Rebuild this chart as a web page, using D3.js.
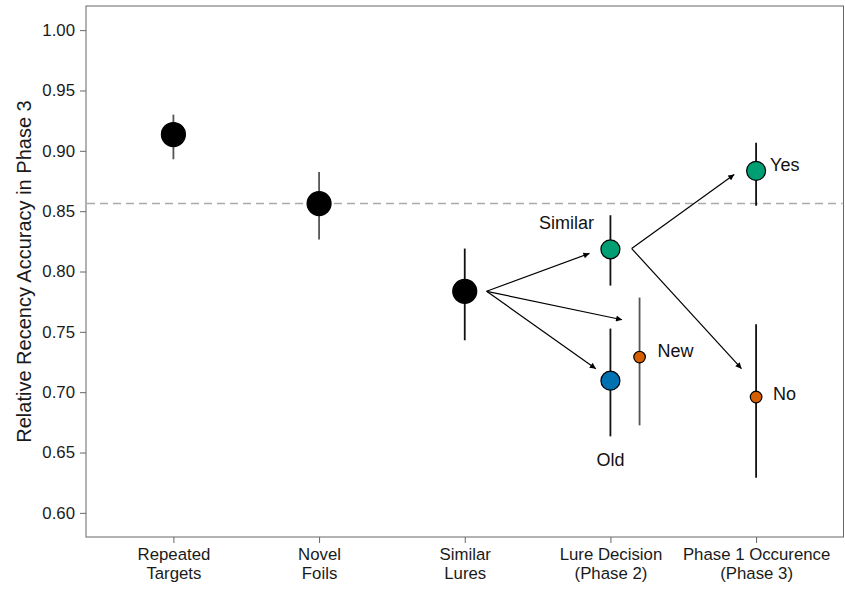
<!DOCTYPE html>
<html>
<head>
<meta charset="utf-8">
<script src="https://cdn.jsdelivr.net/npm/d3@7"></script>
<style>
  body { margin: 0; background: #fff; }
  svg { display: block; font-family: "Liberation Sans", Arial, sans-serif; }
</style>
</head>
<body>
<svg id="chart" width="845" height="589"></svg>
<script>
// Categories along the x axis (each label split over two lines)
const categories = [
  ["Repeated", "Targets"],
  ["Novel", "Foils"],
  ["Similar", "Lures"],
  ["Lure Decision", "(Phase 2)"],
  ["Phase 1 Occurence", "(Phase 3)"]
];
const yTicks = [0.60, 0.65, 0.70, 0.75, 0.80, 0.85, 0.90, 0.95, 1.00];

// Point estimates: category position, mean, lower / upper interval, group
const pointX     = [0, 1, 2, 3, 3, 3.2, 4, 4];
const pointMean  = [0.9135, 0.8563, 0.7836, 0.8184, 0.7095, 0.7291, 0.8834, 0.6960];
const pointLow   = [0.8930, 0.8265, 0.7430, 0.7883, 0.6634, 0.6725, 0.8544, 0.6291];
const pointHigh  = [0.9300, 0.8825, 0.8190, 0.8466, 0.7527, 0.7784, 0.9066, 0.7562];
const pointGroup = ["main", "main", "main", "similar", "old", "new", "similar", "new"];
const pointLabel = ["", "", "", "Similar", "Old", "New", "Yes", "No"];

// Reference line (Novel Foils mean)
const refLine = 0.8563;

// Arrows: from (x0, y0) to (x1, y1)
const arrowX0 = [2.15, 2.15, 2.15, 3.146, 3.146];
const arrowY0 = [0.7836, 0.7836, 0.7836, 0.8190, 0.8190];
const arrowX1 = [2.856, 3.08, 2.90, 3.85, 3.90];
const arrowY1 = [0.8150, 0.7600, 0.7195, 0.8804, 0.7195];

const groupFill   = { main: "#000000", similar: "#009E73", old: "#0072B2", new: "#D55E00" };
const groupRadius = { main: 12, similar: 9.5, old: 9.5, new: 5.8 };

const svg = d3.select("#chart");
const pLeft = 86, pRight = 843.5, pTop = 6, pBottom = 537;

const x = d3.scaleLinear().domain([-0.6, 4.6]).range([pLeft, pRight]);
const y = d3.scaleLinear().domain([0.58, 1.02]).range([pBottom, pTop]);

// arrow head marker
svg.append("defs").append("marker")
  .attr("id", "head")
  .attr("viewBox", "0 0 10 10")
  .attr("refX", 10).attr("refY", 5)
  .attr("markerWidth", 7).attr("markerHeight", 6)
  .attr("markerUnits", "userSpaceOnUse")
  .attr("orient", "auto")
  .append("path").attr("d", "M0,0 L10,5 L0,10 Z").attr("fill", "#000");

// panel border
svg.append("rect")
  .attr("x", pLeft).attr("y", pTop)
  .attr("width", pRight - pLeft).attr("height", pBottom - pTop)
  .attr("fill", "none").attr("stroke", "#666").attr("stroke-width", 1);

// y axis
const yAxis = svg.append("g")
  .attr("transform", `translate(${pLeft},0)`)
  .call(d3.axisLeft(y).tickValues(yTicks).tickFormat(d3.format(".2f")).tickSize(6).tickPadding(5));
yAxis.select(".domain").remove();
yAxis.selectAll(".tick line").attr("stroke", "#666");
yAxis.selectAll(".tick text").attr("fill", "#1a1a1a").style("font-size", "16.8px")
  .style("font-family", "Liberation Sans, Arial, sans-serif");

// x axis
const xAxis = svg.append("g")
  .attr("transform", `translate(0,${pBottom})`)
  .call(d3.axisBottom(x).tickValues(d3.range(categories.length)).tickFormat("").tickSize(6));
xAxis.select(".domain").remove();
xAxis.selectAll(".tick line").attr("stroke", "#666");
xAxis.selectAll(".tick").each(function(d) {
  const t = d3.select(this).append("text")
    .attr("fill", "#1a1a1a").attr("text-anchor", "middle")
    .style("font-size", "16.8px")
    .style("font-family", "Liberation Sans, Arial, sans-serif");
  categories[d].forEach((line, i) => {
    t.append("tspan").attr("x", 0).attr("y", 23 + i * 19).text(line);
  });
});

// y axis title
svg.append("text")
  .attr("transform", `translate(31,${(pTop + pBottom) / 2}) rotate(-90)`)
  .attr("text-anchor", "middle")
  .attr("fill", "#1a1a1a")
  .style("font-size", "20px")
  .text("Relative Recency Accuracy in Phase 3");

// dashed reference line
svg.append("line")
  .attr("x1", pLeft + 1).attr("x2", pRight - 1)
  .attr("y1", y(refLine)).attr("y2", y(refLine))
  .attr("stroke", "#aaa").attr("stroke-width", 1.5)
  .attr("stroke-dasharray", "8,5");

// arrows
svg.append("g").selectAll("line")
  .data(arrowX0.map((d, i) => i))
  .join("line")
  .attr("x1", i => x(arrowX0[i])).attr("y1", i => y(arrowY0[i]))
  .attr("x2", i => x(arrowX1[i])).attr("y2", i => y(arrowY1[i]))
  .attr("stroke", "#000").attr("stroke-width", 1.2)
  .attr("marker-end", "url(#head)");

const idx = pointMean.map((d, i) => i);

// interval bars
svg.append("g").selectAll("line")
  .data(idx)
  .join("line")
  .attr("x1", i => x(pointX[i])).attr("x2", i => x(pointX[i]))
  .attr("y1", i => y(pointLow[i])).attr("y2", i => y(pointHigh[i]))
  .attr("stroke", i => (i === 0 || i === 1 || i === 5) ? "#555" : "#111")
  .attr("stroke-width", 1.8);

// points
svg.append("g").selectAll("circle")
  .data(idx)
  .join("circle")
  .attr("cx", i => x(pointX[i])).attr("cy", i => y(pointMean[i]))
  .attr("r", i => groupRadius[pointGroup[i]])
  .attr("fill", i => groupFill[pointGroup[i]])
  .attr("stroke", "#000")
  .attr("stroke-width", 1.2);

// point labels
const labelPos = {
  "Similar": { dx: -44, dy: -20, anchor: "middle" },
  "Old":     { dx: 0,   dy: 85,  anchor: "middle" },
  "New":     { dx: 18,  dy: 0,   anchor: "start" },
  "Yes":     { dx: 14,  dy: 0,   anchor: "start" },
  "No":      { dx: 17,  dy: 3,   anchor: "start" }
};
svg.append("g").selectAll("text")
  .data(idx.filter(i => pointLabel[i]))
  .join("text")
  .attr("x", i => x(pointX[i]) + labelPos[pointLabel[i]].dx)
  .attr("y", i => y(pointMean[i]) + labelPos[pointLabel[i]].dy)
  .attr("text-anchor", i => labelPos[pointLabel[i]].anchor)
  .attr("fill", "#111")
  .style("font-size", "18px")
  .text(i => pointLabel[i]);
</script>
</body>
</html>
